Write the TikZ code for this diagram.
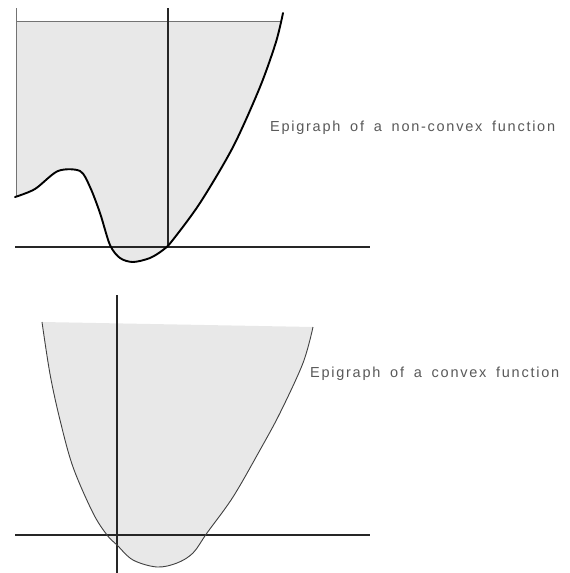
\documentclass[tikz,border=0pt]{standalone}
\usepackage{fontspec}
\newfontfamily\labfont[LetterSpace=12,WordSpace=1.7]{Liberation Sans}
\begin{document}
\begin{tikzpicture}[x=1pt,y=-1pt,
  epifill/.style={fill=black!9},
  axisline/.style={draw=black!85,line width=1.3pt},
  frameline/.style={draw=black!55,line width=0.8pt},
  thickcurve/.style={draw=black,line width=1.9pt,line join=round,line cap=round},
  thincurve/.style={draw=black!75,line width=0.9pt},
  lab/.style={text=black!65,font=\labfont\fontsize{14.5}{16}\selectfont,anchor=west,inner sep=0pt}]
\useasboundingbox[fill=white] (0,0) rectangle (570,573);
% ---------- top: non-convex ----------
\begin{scope}
  \clip (16,21) rectangle (300,300);
  \fill[epifill] (16,10) -- (15,197)
    -- plot[smooth,tension=0.5] coordinates {(15,197) (35,189) (58,171) (80,171) (90,187) (100,213) (110,245) (120,258) (133,262) (150,258) (163,250) (172,241) (200,203) (233,147) (260,87) (276,42) (283,13)}
    -- (283,10) -- cycle;
\end{scope}
\draw[frameline] (16,8) -- (16,197);
\draw[frameline] (16,21) -- (280,21);
\draw[axisline] (168,8) -- (168,247);
\draw[axisline] (15,247) -- (370,247);
\draw[thickcurve] plot[smooth,tension=0.5] coordinates {(15,197) (35,189) (58,171) (80,171) (90,187) (100,213) (110,245) (120,258) (133,262) (150,258) (163,250) (172,241) (200,203) (233,147) (260,87) (276,42) (283,13)};
\node[lab] (l1) at (270,128) {Epigraph of a non-convex function};
% ---------- bottom: convex ----------
\fill[epifill] plot[smooth,tension=0.55] coordinates {(42,322) (50,374) (60,420) (73,467) (93,513) (107,535) (117,545) (133,560) (157,567) (177,563) (193,553) (207,533) (233,497) (260,450) (280,413) (303,363) (313,327)} -- cycle;
\draw[axisline] (117,295) -- (117,573);
\draw[axisline] (15,535) -- (370,535);
\draw[thincurve] plot[smooth,tension=0.55] coordinates {(42,322) (50,374) (60,420) (73,467) (93,513) (107,535) (117,545) (133,560) (157,567) (177,563) (193,553) (207,533) (233,497) (260,450) (280,413) (303,363) (313,327)};
\node[lab] (l2) at (310,374) {Epigraph of a convex function};
\end{tikzpicture}
\end{document}
